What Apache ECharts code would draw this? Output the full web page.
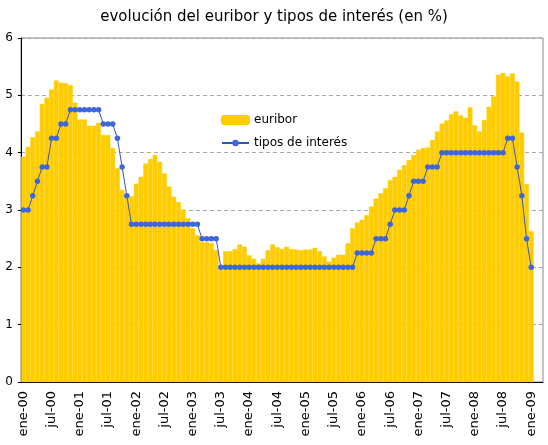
<!DOCTYPE html>
<html>
<head>
<meta charset="utf-8">
<script src="https://cdn.jsdelivr.net/npm/echarts@6/dist/echarts.min.js"></script>
<style>
  html, body { margin: 0; padding: 0; background: #fff; }
  #chart { width: 548px; height: 445px; }
</style>
</head>
<body>
<div id="chart"></div>
<script>
// meses y años del eje (ene-00 .. mar-09, los dos ultimos sin datos)
var meses = ['ene', 'feb', 'mar', 'abr', 'may', 'jun', 'jul', 'ago', 'sep', 'oct', 'nov', 'dic'];
var anios = ['00', '01', '02', '03', '04', '05', '06', '07', '08', '09'];
var num_meses = 111;

// euribor mensual, ene-00 .. ene-09
var euribor = [
  3.93, 4.10, 4.27, 4.37, 4.85, 4.96, 5.10, 5.26, 5.22, 5.21, 5.18, 4.87,
  4.58, 4.58, 4.47, 4.47, 4.52, 4.31, 4.31, 4.08, 3.73, 3.35, 3.26, 3.24,
  3.46, 3.58, 3.81, 3.89, 3.96, 3.84, 3.64, 3.41, 3.23, 3.14, 3.01, 2.86,
  2.68, 2.56, 2.44, 2.44, 2.42, 2.30, 2.01, 2.28, 2.28, 2.32, 2.40, 2.36,
  2.21, 2.15, 2.07, 2.15, 2.30, 2.40, 2.35, 2.32, 2.36, 2.32, 2.31, 2.30,
  2.31, 2.31, 2.34, 2.28, 2.19, 2.10, 2.17, 2.22, 2.22, 2.42, 2.68, 2.78,
  2.83, 2.91, 3.06, 3.20, 3.29, 3.38, 3.52, 3.58, 3.70, 3.78, 3.87, 3.96,
  4.05, 4.08, 4.09, 4.22, 4.37, 4.51, 4.56, 4.67, 4.72, 4.65, 4.61, 4.79,
  4.48, 4.37, 4.57, 4.80, 4.98, 5.36, 5.39, 5.33, 5.38, 5.24, 4.35, 3.45,
  2.63
];

// tipos de interes BCE, ene-00 .. ene-09
var tipos = [
  3.00, 3.00, 3.25, 3.50, 3.75, 3.75, 4.25, 4.25, 4.50, 4.50, 4.75, 4.75,
  4.75, 4.75, 4.75, 4.75, 4.75, 4.50, 4.50, 4.50, 4.25, 3.75, 3.25, 2.75,
  2.75, 2.75, 2.75, 2.75, 2.75, 2.75, 2.75, 2.75, 2.75, 2.75, 2.75, 2.75,
  2.75, 2.75, 2.50, 2.50, 2.50, 2.50, 2.00, 2.00, 2.00, 2.00, 2.00, 2.00,
  2.00, 2.00, 2.00, 2.00, 2.00, 2.00, 2.00, 2.00, 2.00, 2.00, 2.00, 2.00,
  2.00, 2.00, 2.00, 2.00, 2.00, 2.00, 2.00, 2.00, 2.00, 2.00, 2.00, 2.25,
  2.25, 2.25, 2.25, 2.50, 2.50, 2.50, 2.75, 3.00, 3.00, 3.00, 3.25, 3.50,
  3.50, 3.50, 3.75, 3.75, 3.75, 4.00, 4.00, 4.00, 4.00, 4.00, 4.00, 4.00,
  4.00, 4.00, 4.00, 4.00, 4.00, 4.00, 4.00, 4.25, 4.25, 3.75, 3.25, 2.50,
  2.00
];

var fuente = 'DejaVu Sans';

function build_categories(){
  var cats = Array();
  anios.forEach(function(a){
    meses.forEach(function(m){
      if (cats.length < num_meses) cats.push(m + '-' + a);
    });
  });
  return cats;
}

function render_chart(chart_id){
  var chart_div = echarts.init(document.getElementById(chart_id));
  var categories = build_categories();

  var option = {
    animation: false,
    title: {
      text: 'evolución del euribor y tipos de interés (en %)',
      left: 'center',
      top: 5,
      textStyle: { fontFamily: fuente, fontSize: 15, fontWeight: 'normal', color: '#000' }
    },
    legend: {
      data: ['euribor', 'tipos de interés'],
      orient: 'vertical',
      left: 221,
      top: 114,
      padding: 0,
      itemWidth: 27,
      itemHeight: 8,
      itemGap: 11,
      textStyle: { fontFamily: fuente, fontSize: 12, color: '#000' }
    },
    grid: {
      left: 21,
      right: 5,
      top: 38,
      bottom: 63,
      show: true,
      borderColor: '#888',
      borderWidth: 1
    },
    xAxis: [
      {
        type: 'category',
        data: categories,
        boundaryGap: true,
        axisLine: { lineStyle: { color: '#000', width: 1 } },
        axisTick: { interval: 0, length: 3, lineStyle: { color: '#000' } },
        axisLabel: {
          interval: 5,
          rotate: 90,
          margin: 9,
          fontFamily: fuente,
          fontSize: 13,
          color: '#000'
        },
        splitLine: { show: false }
      },
      {
        // solo para las marcas hacia dentro (cruz)
        type: 'category',
        data: categories,
        position: 'bottom',
        boundaryGap: true,
        axisLine: { show: false },
        axisTick: { inside: true, interval: 0, length: 3, lineStyle: { color: '#000' } },
        axisLabel: { show: false },
        splitLine: { show: false }
      }
    ],
    yAxis: {
      type: 'value',
      min: 0,
      max: 6,
      interval: 1,
      axisLine: { show: true, lineStyle: { color: '#000', width: 1 } },
      axisTick: { show: true, length: 3, lineStyle: { color: '#000' } },
      axisLabel: { fontFamily: fuente, fontSize: 12, color: '#000', margin: 8 },
      splitLine: { lineStyle: { color: '#aaa', type: [4, 3] } }
    },
    series: [
      {
        name: 'euribor',
        type: 'bar',
        data: euribor,
        barCategoryGap: '0%',
        itemStyle: { color: '#FFCC00', borderColor: '#FFCC00', borderWidth: 0.5 }
      },
      {
        name: 'tipos de interés',
        type: 'line',
        data: tipos,
        symbol: 'circle',
        symbolSize: 5.5,
        showSymbol: true,
        showAllSymbol: true,
        lineStyle: { color: '#3557b8', width: 1 },
        itemStyle: { color: '#3d66dd' }
      }
    ]
  };

  chart_div.setOption(option, true);
}

render_chart('chart');
</script>
</body>
</html>
